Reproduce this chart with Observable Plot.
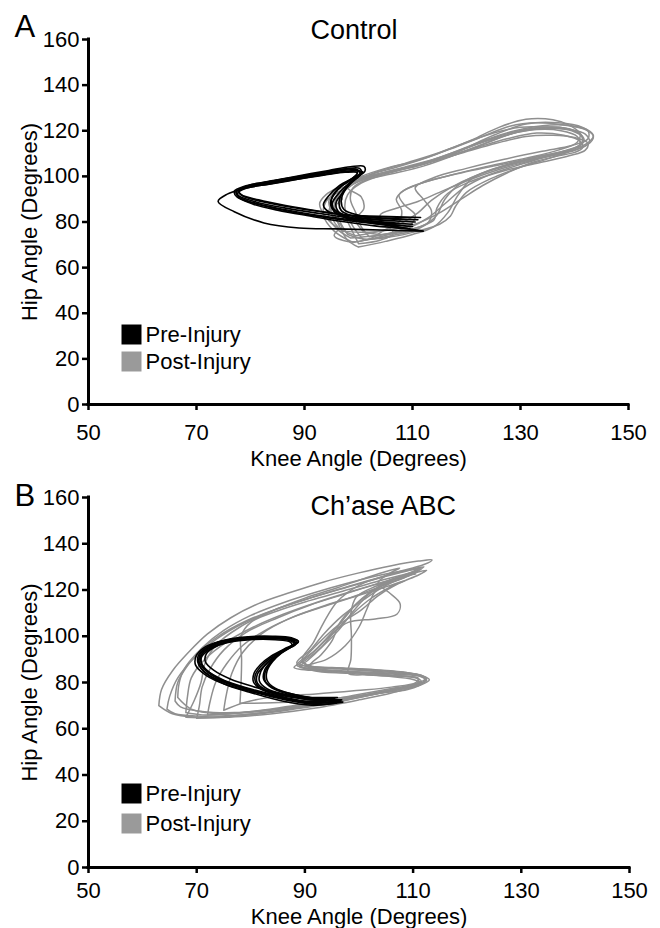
<!DOCTYPE html>
<html>
<head>
<meta charset="utf-8">
<script src="https://cdn.jsdelivr.net/npm/d3@7"></script>
<script src="https://cdn.jsdelivr.net/npm/@observablehq/plot@0.6"></script>
<style>
  html, body { margin: 0; padding: 0; background: #fff; }
  #wrap { position: relative; width: 660px; height: 928px; overflow: hidden; background: #fff; }
  #wrap > svg { position: absolute; left: 0; }
</style>
</head>
<body>
<div id="wrap"></div>
<script>
// ---------- tick labels / text ----------
const kneeTicks = [50, 70, 90, 110, 130, 150];
const hipTicks = [0, 20, 40, 60, 80, 100, 120, 140, 160];
const xLabel = "Knee Angle (Degrees)";
const yLabel = "Hip Angle (Degrees)";
const seriesNames = ["Pre-Injury", "Post-Injury"];
const panelTitles = ["Control", "Ch\u2019ase ABC"];
const panelLetters = ["A", "B"];

// ---------- Control, pre-injury loops [knee, hip] ----------
const controlPre = [
  [[110.5,80],[104,80.8],[98,82],[92,84],[86,86.3],[81,88.8],[78,91.2],[77.3,93],[78.5,95],[82,97],[87,99],[92,101],[96.5,102.8],[99.5,103.2],[100.3,101.5],[98.8,98],[97.2,93.5],[96.4,89],[96.8,85],[99,82.5],[104,81],[110.5,80]],
  [[110,78],[103,79.3],[97,81],[91,83],[85.5,85.5],[80.5,88.3],[77.5,91],[77,93.5],[79,95.8],[83,97.5],[88,99.6],[93,101.5],[97.5,103.3],[100.2,103.5],[100.5,101.2],[98.6,97],[96.8,92],[95.8,88],[96.5,84],[99,81.2],[104,79.5],[110,78]],
  [[112,76],[104,76.5],[96,77],[89,77.4],[82.5,79.6],[77,84.5],[74,89],[75.7,92.2],[78.5,94.5],[83,96.5],[88,98.5],[93,100.5],[97.5,102],[100,102.5],[100.3,100.8],[98.5,97.5],[96.5,93],[95.2,88.5],[95.5,84.5],[98,81.5],[104,79],[112,76]],
  [[111.5,82],[104,82.3],[98,83],[93,84.5],[87.5,86.5],[82,89],[78.5,91.5],[77.8,93.2],[79.5,95.3],[84,97.3],[89,99.3],[94,101],[98,102.2],[100.8,102],[99.2,99.5],[96.5,96],[94.5,91.5],[93.5,87.5],[94.5,84.5],[98,83],[104,82.5],[111.5,82]],
  [[109.5,77],[103,78.3],[97,80.2],[91,82.6],[85,85.2],[80.5,87.8],[78,90.5],[77.6,92.6],[79.2,94.8],[83.5,96.6],[88.5,98.6],[93.5,100.5],[97.5,101.8],[99.8,101.6],[98.6,98.6],[96.2,94.5],[95,90],[95.3,86],[97.5,82.8],[102,80.2],[109.5,77]],
  [[111,81],[104.5,81.5],[98.5,82.8],[92.5,84.8],[86.5,87.2],[81.5,89.7],[78.3,92],[77.8,94],[80,96.3],[84.5,98.3],[89.5,100.5],[94.5,102.6],[98.5,104.2],[101,104.4],[101.2,102.4],[99.3,98.8],[97.6,94.3],[96.8,89.5],[97.3,85.5],[100,83],[105,81.7],[111,81]],
  [[110,79],[103.5,79.8],[97.5,81.3],[91.5,83.3],[85.5,85.8],[80.5,88.5],[77.8,91],[77.4,93.2],[79,95.3],[83.2,97.2],[88.2,99.2],[93.2,101.2],[97.2,102.6],[99.8,102.7],[99.6,100.5],[97.4,96.8],[95.6,92.5],[94.8,88.3],[95.6,84.6],[98.4,82],[103.5,80.3],[110,79]]
];

// ---------- Control, post-injury loops ----------
const controlPost = [
  [[100,69],[105,71.5],[110,74.5],[114,78],[116.5,84],[118.5,92],[121,99],[126,104],[132,108],[138,111],[142,114],[143.5,118],[141.5,121.5],[137,123.5],[131,123],[125,118],[119,111.5],[113,106],[107,102.5],[102,99.5],[98.5,96],[96,91],[95.5,85],[96.5,78],[98,72],[100,69]],
  [[98.5,73],[103,74],[108,76],[112,78.5],[114.5,83],[116,90],[119,97],[124,102.5],[130,106.5],[136,109.5],[140.5,112],[142.8,115],[142,118.5],[139,120.5],[134,121],[128,118.5],[122,113],[116,108],[110,104.5],[104.5,101.5],[100.5,98.5],[97.5,94],[95,88],[94.5,82],[96,77],[98.5,73]],
  [[99,71],[104,73.5],[109,77],[113,82],[116,88],[119.5,95],[124,100.5],[129,104.5],[134,108],[139,111.5],[141.5,115],[141,119],[139,122.5],[136,124.8],[131,125],[126,121.5],[121,116],[115,110.5],[109,106],[103.5,102],[99.5,98],[96.5,93.5],[94,89],[93.5,83],[95.5,76],[99,71]],
  [[101,72],[106,74],[110.5,76.5],[113,80],[113.5,85],[112,90],[110.5,95],[114,99.5],[120,103.5],[127,107.5],[134,111],[139.5,113.5],[142.5,116.5],[142.5,120],[140,122],[135.5,122.5],[129,120],[123,115.5],[117,110],[111,105],[105,101],[100.5,97],[98,92],[97.5,86],[99,78],[101,72]],
  [[97,76],[102,75.5],[107,77],[111,79.5],[115,84],[119,90],[123,96],[127.5,101.5],[132,106],[137,109],[140,110.5],[141.5,112.5],[141,115.5],[138,118],[133,119],[127.5,116.5],[121,112],[115,108],[109,104],[103,100],[98.5,96.5],[95.5,93],[94.5,89],[95,84],[95.5,80],[97,76]],
  [[100,70.5],[104,72],[106.5,75],[105,79],[104,83],[107,86],[111,89],[115,93],[120,98],[126,103],[132,107],[137.5,110.5],[141,113.5],[141.5,117],[139.5,120],[135,121.5],[130,121.5],[125,119],[119,114],[113,108.5],[107,104],[102.5,101],[99,97],[97,92],[96.5,87],[98,80],[100,70.5]],
  [[99.5,74],[104,76],[108,79.5],[111,84],[113.5,89.5],[117,95],[122,100.5],[128,105],[134.5,108.5],[139.5,111],[142.5,114],[143.5,117.5],[142,120.5],[138,122.5],[133,123.5],[128,122],[123,117.5],[117,112],[111,107],[105,103.5],[100.5,100],[97,96],[94,92],[92.8,88],[94,82],[96.5,77],[99.5,74]],
  [[102,73.5],[106.5,75.5],[109.5,78.5],[110.5,83],[108.5,87.5],[107.5,92],[111,96.5],[117,100.5],[124,104.5],[131,108],[137,111.5],[140.5,115],[141,118.5],[138.5,121],[134.5,121.5],[129.5,119.5],[124,115],[118,109.5],[112,104.5],[106,101],[101.5,98.5],[99,95],[98.5,90],[99.5,84],[100.5,78],[102,73.5]],
  [[98,74.5],[101,72.5],[106,73.5],[111,76],[115,79],[117,82.5],[118,87],[120,93],[124.5,99],[130,104],[135.5,108],[139.5,111.5],[141.8,115.5],[140.5,119.5],[137,121.5],[132,121],[126.5,118],[120.5,113],[114.5,108],[108.5,104],[103,100.5],[99,97],[96.5,92.5],[95.8,87],[96.5,80.5],[98,74.5]],
  [[97,78],[95.5,74],[98,71.5],[102,72.5],[104.5,76],[107.5,80],[108,85],[107,90],[108.5,94],[113,98],[119,101.5],[126,105],[133,108.5],[138.5,111.5],[141,114],[140.5,117.5],[137.5,120],[133,120.5],[128,118.5],[122.5,114.5],[117,109.5],[111.5,105],[106,102],[101.5,100],[98,97.5],[96,94],[97,90],[95,86],[95.5,82],[97,78]],
  [[101,75.5],[104.5,74.5],[108,75.5],[111.5,78],[114,81],[114.5,86],[116.5,92.5],[121,98],[127,102.5],[133.5,106],[139,109],[142,111.5],[142.5,114.5],[140,117],[136,118],[131,117.5],[125.5,114.5],[119.5,110.5],[113.5,106.5],[107.5,103],[102.5,100.5],[99,98.5],[98,95],[100.5,91],[101,86],[99.5,81],[101,75.5]]
];

// ---------- Ch'ase ABC, pre-injury loops ----------
const chasePre = [
  [[96.5,72],[92,71.2],[86,73.3],[80,76.8],[75.5,80],[72.3,84],[70.5,88.5],[70.6,92],[72.2,95.5],[75,98],[79,99.3],[84,99.6],[87.5,98.8],[88.5,97.3],[87,95],[84.8,92],[83,88.5],[81.8,84.5],[81.6,80.5],[83,77.3],[86.5,74.8],[91,73],[96.5,72]],
  [[95.5,73],[91,71.8],[85.5,74],[79.5,77.5],[75,81],[72,85],[70.8,89],[71,92.5],[73,96],[76,98.3],[80,99.5],[84.5,99.2],[87.8,98],[88.3,96.5],[86.5,94.3],[84.5,91.3],[82.6,87.5],[81.2,83.5],[81.2,79.8],[82.8,76.8],[86.2,74.5],[90.5,73.2],[95.5,73]],
  [[97,71.5],[92.5,70.5],[86.5,72.5],[80.5,75.8],[75.5,79],[71.8,83],[69.8,87.5],[69.9,91.5],[71.3,95],[74,97.6],[78,99],[83,99.8],[87,99.2],[88.8,97.8],[87.6,95.5],[85.6,92.6],[84,89],[83,85],[83,81],[84.5,77.5],[88,74.8],[92.5,72.8],[97,71.5]],
  [[96,73.5],[91,72.5],[86,74.8],[80.5,78.2],[76.2,81.5],[73.2,85.2],[71.6,89],[71.8,92.5],[73.6,95.6],[76.5,97.6],[80.5,98.6],[84.5,98.5],[87.3,97.5],[87.6,96],[85.8,93.8],[83.6,90.6],[81.8,86.8],[80.8,83],[81,79.5],[82.6,76.6],[86,74.6],[90.5,73.6],[96,73.5]],
  [[95,72.8],[90.5,71.5],[85,73.6],[79,77.2],[74.5,80.5],[71.5,84.5],[70.2,88.8],[70.5,92.5],[72.5,96],[75.5,98.5],[79.5,99.8],[84,100],[87.5,99.3],[88.8,97.6],[87.3,95.2],[85.3,92.3],[83.6,88.8],[82.5,85],[82.4,81.2],[84,77.8],[87.3,75.2],[91,73.5],[95,72.8]],
  [[96.8,72.5],[92,71],[86.5,72.8],[81,76],[76.5,79.3],[73,83.2],[71,87.5],[70.9,91],[72.5,94.5],[75.3,97.2],[79.3,98.7],[83.8,99],[87,98.3],[88,96.8],[86.2,94.5],[83.8,91.5],[81.8,87.8],[80.6,84],[80.5,80.2],[82,77],[85.5,74.5],[90.3,72.8],[96.8,72.5]],
  [[95.8,71.2],[91.2,70.2],[85.8,72],[79.8,75.8],[75,79.5],[71.8,83.8],[70.4,88],[70.8,91.8],[72.8,95.3],[76,97.8],[80.2,99],[84.5,99.2],[87.6,98.5],[88.2,97],[86.8,94.8],[85,91.8],[83.5,88],[82.6,84],[82.8,80],[84.6,76.8],[88,74.3],[91.8,72.3],[95.8,71.2]]
];

// ---------- Ch'ase ABC, post-injury loops ----------
const chasePost = [
  [[63,70],[63.5,77],[65.5,85],[68.8,93.8],[72,101],[76.3,108],[81.3,114],[87.4,119],[93.5,123.5],[99.8,127.3],[106,130.5],[111,132.5],[113.5,133],[112,131],[106,127],[100,122],[96,115],[93.5,106],[91.5,97],[89.5,90],[91,87],[97,86.3],[103,85.5],[109,84.2],[112.5,82],[111,79],[106,75.5],[100,72.5],[92,69],[84,66.5],[76,65],[70,65],[65.5,66.5],[63,70]],
  [[66,72],[66.5,80],[68.5,88],[71,95],[75,102.5],[80,109],[86,114.5],[92,119],[98,123],[104,126.5],[109,128.5],[111.5,129],[109,126],[104,121.5],[100,115],[97,107],[94,99],[91,92],[89,88],[93,86.5],[99,85.8],[105,85],[110,83.6],[112.5,81.5],[111.2,79.5],[107,77],[101,74.5],[93,71],[85,68.5],[77,67],[71,67.5],[67,69.5],[66,72]],
  [[68,65],[69.5,72],[70.8,80],[71.5,88],[73.5,96],[78,104],[84,111],[90,116.5],[96,121],[101,125],[105,128],[107.5,129.5],[105.5,127],[103.5,123],[105.5,119],[107.6,114],[107,109.5],[103,107.5],[98,106],[95,101],[92,94],[89.5,89],[92,86],[99,84.5],[106,83],[110.5,82],[111.5,80.5],[108.5,78],[103,75],[96,71.5],[88,68.5],[80,66],[73,64.8],[68,65]],
  [[70,64.5],[70.5,70],[71,78],[72.5,86],[75,94],[79,101.5],[85,108],[91,113.5],[97,118],[102.5,122],[107,125],[110.5,127],[108,125.5],[103,121.5],[99.5,117],[98.5,110],[98.6,100],[98.5,90],[98,84],[101,83.3],[106,82.8],[110.8,81.8],[111,80],[107,77.5],[100,74],[92,70.5],[84,67.5],[76,65.5],[70,64.5]],
  [[78,71],[78.2,80],[78.3,90],[78.2,100],[80,106],[85,111],[91,115.5],[97,119.5],[103,123.5],[108,126.5],[111,128.3],[109.5,126.5],[105,122],[101,116],[97,109],[93.5,101],[91,94],[88.5,88.5],[91.5,85.2],[98,84],[105,82.8],[110,81.3],[111.5,79.5],[109,77],[104,75.5],[97,73.5],[90,72],[84,71.2],[78,71]],
  [[66.5,73.5],[66.7,79],[67.5,85],[70,92.5],[74,100],[79,106.5],[85,112],[91.5,117],[98,121.5],[104,125.5],[109,128.5],[112,130],[110.5,128],[106,124],[102,118.5],[99,111],[96,102],[93,95],[90,89.5],[88,86.5],[93,85],[100,84.2],[107,83.5],[111.5,82.5],[112.5,80.8],[110,78.5],[104,76],[97,73],[89,70],[81,67.5],[74,66.5],[69,68.5],[66.5,73.5]],
  [[72,66],[72.5,72],[73.5,80],[75.5,88],[78.5,96],[83,103],[88,108.5],[94,113.5],[100,118],[105,122.5],[108.5,125.5],[106,124.5],[102,119],[99,113],[96.5,106],[95,98],[93,92],[91,87.5],[95,86.5],[101,85.5],[107,84.6],[111,83.3],[112.2,81.5],[110,79.2],[105,77],[98,74],[90,70.8],[82,68],[76,66.5],[72,66]],
  [[64.5,68.5],[65,74],[66.5,82],[69.5,90.5],[73.5,98.5],[78.5,105.5],[84.5,111.5],[91,116.5],[97.5,121],[103.5,125],[108.5,128],[111.5,129.8],[109.5,127.5],[105.5,124],[103,119.5],[101.5,112],[100,104],[97.5,96],[94,90],[90,87],[95,86],[102,85],[108,84],[111.8,82.8],[112,80.3],[108.5,77.8],[102,74.5],[94,71],[86,68],[78,66],[70,65.5],[66,66.5],[64.5,68.5]],
  [[75,68],[75.5,75],[76.5,84],[78.5,93],[82,101],[87,107.5],[93,112.5],[99,117],[104.5,121],[108.5,124],[106,121.5],[102,116],[98.5,109],[95.5,102],[93,95],[90.5,89.5],[89,86.8],[94,85.2],[101,84],[107,83],[111,81.8],[110.5,80],[106,78],[99.5,76.5],[92,75],[85,74],[79,71.5],[75,68]],
  [[68,67],[68.3,74],[69,82],[71.5,90],[75.5,97.5],[80.5,104],[86,109.5],[92,114.5],[98.5,119.3],[104.5,123.5],[109.5,126.8],[112.5,128.5],[111,126.5],[107,122.5],[103.5,117.5],[100.5,111.5],[96,104.5],[92.5,97],[90,91],[88.5,87.5],[92.5,85.8],[99,84.8],[106,84],[111.3,83],[113,81.2],[111.5,79],[106.5,76.5],[99.5,73.5],[91.5,70.5],[83.5,68],[76,66.5],[71,66],[68,67]]
];

// ---------- styling ----------
const preColor = "#000000";
const postColor = "#8f8f8f";
const swatchPost = "#9a9a9a";
const font = "'Liberation Sans', Arial, Helvetica, sans-serif";

const toRows = (loops) => loops.flatMap((loop, i) => loop.map(([knee, hip]) => ({knee, hip, loop: i})));

const layouts = [
  {top: 0, height: 459, mt: 39, mb: 55, mr: 32, titleDy: -1, letterDy: -3, xLabelDy: 61, tickPad: 14, legDy: [295, 322]},
  {top: 459, height: 469, mt: 38, mb: 61, mr: 31, titleDy: 17, letterDy: 8, xLabelDy: 56, tickPad: 9, legDy: [296, 326]}
];
const datasets = [[controlPre, controlPost], [chasePre, chasePost]];

const wrap = document.getElementById("wrap");

datasets.forEach(([pre, post], k) => {
  const L = layouts[k];
  const svg = Plot.plot({
    width: 660,
    height: L.height,
    marginLeft: 88,
    marginRight: L.mr,
    marginTop: L.mt,
    marginBottom: L.mb,
    style: {fontFamily: font, fontSize: "22px", color: "#000", background: "transparent", overflow: "visible"},
    x: {domain: [50, 150]},
    y: {domain: [0, 160]},
    marks: [
      Plot.line(toRows(post), {x: "knee", y: "hip", z: "loop", stroke: postColor, strokeWidth: 1.5, curve: "catmull-rom"}),
      Plot.line(toRows(pre), {x: "knee", y: "hip", z: "loop", stroke: preColor, strokeWidth: 1.6, curve: "catmull-rom"}),
      Plot.ruleX([50], {stroke: "#000", strokeWidth: 3, strokeLinecap: "square"}),
      Plot.ruleY([0], {stroke: "#000", strokeWidth: 3, strokeLinecap: "square"}),
      Plot.axisX(kneeTicks, {tickSize: 6, tickPadding: L.tickPad, strokeWidth: 2.5, fontSize: 22, label: null, tickFormat: d => String(d)}),
      Plot.axisY(hipTicks, {tickSize: 6, tickPadding: 3, strokeWidth: 2.5, fontSize: 22, label: null, tickFormat: d => String(d)}),
      // axis titles
      Plot.text([xLabel], {text: d => d, frameAnchor: "bottom", dy: L.xLabelDy, textAnchor: "middle", lineAnchor: "bottom", fontSize: 22, fill: "#000"}),
      Plot.text([yLabel], {text: d => d, frameAnchor: "left", dx: -59, rotate: -90, textAnchor: "middle", lineAnchor: "middle", fontSize: 22, fill: "#000"}),
      // panel title and letter
      Plot.text([panelTitles[k]], {text: d => d, frameAnchor: "top-left", dx: 222, dy: L.titleDy, textAnchor: "start", lineAnchor: "bottom", fontSize: 27, fill: "#000"}),
      Plot.text([panelLetters[k]], {text: d => d, frameAnchor: "top-left", dx: -74, dy: L.letterDy, textAnchor: "start", lineAnchor: "bottom", fontSize: 31, fill: "#000"}),
      // legend
      Plot.dot([seriesNames[0]], {frameAnchor: "top-left", dx: 43, dy: L.legDy[0], symbol: "square", r: 11.28, fill: preColor, stroke: null}),
      Plot.dot([seriesNames[1]], {frameAnchor: "top-left", dx: 43, dy: L.legDy[1], symbol: "square", r: 11.28, fill: swatchPost, stroke: null}),
      Plot.text([seriesNames[0]], {text: d => d, frameAnchor: "top-left", dx: 57, dy: L.legDy[0], textAnchor: "start", lineAnchor: "middle", fontSize: 22, fill: "#000"}),
      Plot.text([seriesNames[1]], {text: d => d, frameAnchor: "top-left", dx: 57, dy: L.legDy[1], textAnchor: "start", lineAnchor: "middle", fontSize: 22, fill: "#000"})
    ]
  });
  svg.style.top = L.top + "px";
  wrap.appendChild(svg);
});
</script>
</body>
</html>
